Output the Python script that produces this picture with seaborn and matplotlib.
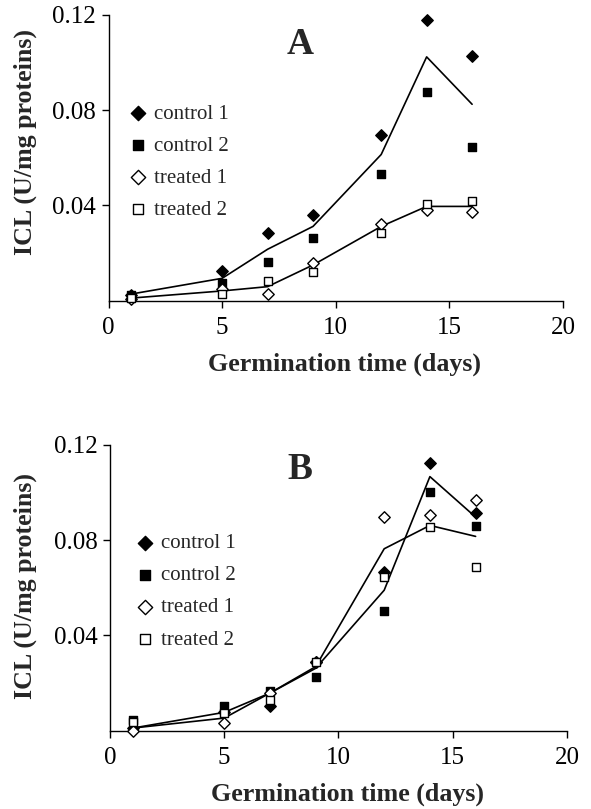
import numpy as np
import pandas as pd
import seaborn as sns
import matplotlib
matplotlib.use("Agg")
import matplotlib.pyplot as plt

sns.set_style("ticks")
plt.rcParams['font.family'] = ['Liberation Serif', 'DejaVu Serif']

days = [1, 5, 7, 9, 12, 14, 16]

# panel A
a_control1 = [0.0025, 0.0126, 0.0284, 0.0361, 0.0698, 0.1180, 0.1029]
a_control2 = [0.0025, 0.0076, 0.0162, 0.0264, 0.0534, 0.0877, 0.0645]
a_treated1 = [0.0007, 0.0048, 0.0028, 0.0157, 0.0323, 0.0379, 0.0372]
a_treated2 = [0.0013, 0.0028, 0.0083, 0.0122, 0.0284, 0.0406, 0.0419]
a_control_line = [0.0028, 0.0094, 0.0216, 0.0312, 0.0614, 0.1024, 0.0825]
a_treated_line = [0.0011, 0.0041, 0.0059, 0.0150, 0.0312, 0.0396, 0.0396]

# panel B
b_control1 = [0.0010, 0.0080, 0.0105, 0.0290, 0.0667, 0.1123, 0.0914]
b_control2 = [0.0043, 0.0105, 0.0167, 0.0227, 0.0504, 0.1004, 0.0858]
b_treated1 = [0.0000, 0.0032, 0.0158, 0.0290, 0.0897, 0.0904, 0.0967]
b_treated2 = [0.0038, 0.0074, 0.0130, 0.0287, 0.0646, 0.0855, 0.0688]
b_control_line = [0.0011, 0.0077, 0.0158, 0.0262, 0.0590, 0.1067, 0.0897]
b_treated_line = [0.0011, 0.0053, 0.0158, 0.0269, 0.0764, 0.0862, 0.0816]

labels = ["control 1", "control 2", "treated 1", "treated 2"]
x_ticks = [0, 5, 10, 15, 20]
y_ticks = [0.04, 0.08, 0.12]

styles = [
    dict(marker="D", s=34, facecolor="black", edgecolor="black"),
    dict(marker="s", s=36, facecolor="black", edgecolor="black"),
    dict(marker="D", s=34, facecolor="white", edgecolor="black"),
    dict(marker="s", s=36, facecolor="white", edgecolor="black"),
]

fig = plt.figure(figsize=(5.91, 8.09), dpi=100)
axA = fig.add_axes([0.1836, 0.6283, 0.769, 0.3532])
axB = fig.add_axes([0.1861, 0.0968, 0.7733, 0.3532])


def draw(ax, series, lines, letter, letter_xy, leg_anchor, ylab_xy):
    for ln in lines:
        sns.lineplot(x=days, y=ln, ax=ax, color="black", linewidth=1.2, clip_on=False)
    for vals, lab, st in zip(series, labels, styles):
        sns.scatterplot(x=days, y=vals, ax=ax, label=lab, linewidth=1.0,
                        clip_on=False, zorder=3, **st)
    ax.set_xlim(0, 20)
    ax.set_ylim(0, 0.12)
    ax.set_xticks(x_ticks)
    ax.set_xticklabels([str(t) for t in x_ticks])
    ax.set_yticks(y_ticks)
    ax.set_yticklabels(["%.2f" % t for t in y_ticks])
    ax.tick_params(direction="out", length=5, width=1, labelsize=18, colors="black")
    ax.tick_params(axis="x", pad=7)
    ax.tick_params(axis="y", pad=4)
    for sp in ["top", "right"]:
        ax.spines[sp].set_visible(False)
    for sp in ["left", "bottom"]:
        ax.spines[sp].set_linewidth(1)
        ax.spines[sp].set_color("black")
    ax.set_xlabel("Germination time (days)", fontsize=18.7, fontweight="bold")
    ax.set_ylabel("ICL (U/mg proteins)", fontsize=18.7, fontweight="bold")
    ax.xaxis.set_label_coords(0.52, -0.222)
    ax.xaxis.label.set_va("center")
    ax.yaxis.set_label_coords(*ylab_xy)
    ax.yaxis.label.set_va("center")
    ax.text(letter_xy[0], letter_xy[1], letter, fontsize=27, fontweight="bold",
            ha="center", va="center")
    ax.legend(loc="upper left", bbox_to_anchor=leg_anchor, frameon=False, fontsize=15,
              handletextpad=0.27, labelspacing=0.6, borderaxespad=0, handlelength=1.0,
              markerscale=1.25)


draw(axA, [a_control1, a_control2, a_treated1, a_treated2],
     [a_control_line, a_treated_line], "A", (8.44, 0.1075), (0.024, 0.7175), (-0.184, 0.554))
draw(axB, [b_control1, b_control2, b_treated1, b_treated2],
     [b_control_line, b_treated_line], "B", (8.29, 0.1095), (0.036, 0.7186), (-0.186, 0.506))

fig.savefig("out.png", dpi=100)
